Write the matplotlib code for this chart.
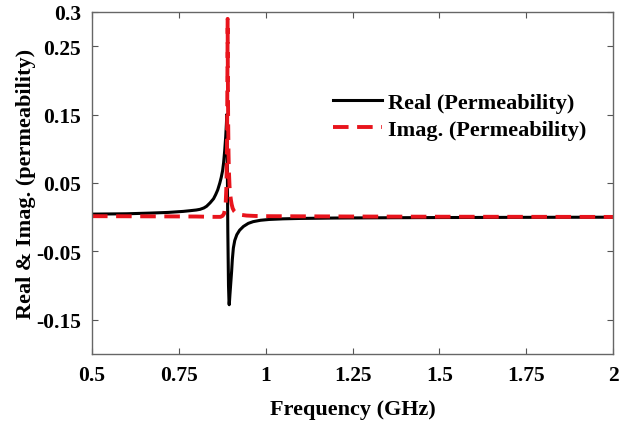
import matplotlib
matplotlib.use("Agg")
import matplotlib.pyplot as plt

# Real part of permeability
freq_real = [0.5, 0.6, 0.667, 0.72, 0.763, 0.782, 0.80, 0.811, 0.822, 0.830, 0.840, 0.850,
             0.856, 0.862, 0.868, 0.872, 0.876, 0.879, 0.882, 0.885, 0.887, 0.888,
             0.8885, 0.8895, 0.891, 0.893, 0.8945, 0.895, 0.896, 0.897, 0.899, 0.902,
             0.904, 0.907, 0.911, 0.917, 0.925, 0.936, 0.95, 0.964, 0.985, 1.01, 1.05,
             1.1, 1.2, 1.35, 1.5, 1.75, 2.0]
real_vals = [0.0045, 0.005, 0.006, 0.007, 0.0085, 0.0095, 0.0105, 0.0115, 0.0135, 0.016,
             0.021, 0.027, 0.033, 0.040, 0.050, 0.058, 0.068, 0.080, 0.097, 0.118, 0.137,
             0.150, 0.140, 0.08, -0.02, -0.10, -0.125, -0.128, -0.122, -0.114, -0.100,
             -0.079, -0.062, -0.045, -0.034, -0.0255, -0.019, -0.0135, -0.009, -0.0065,
             -0.0045, -0.0033, -0.0024, -0.0018, -0.0012, -0.0008, -0.0005, -0.0002, 0.0]

# Imaginary part of permeability
freq_imag = [0.5, 0.7, 0.8, 0.85, 0.87, 0.876, 0.880, 0.883, 0.885, 0.887, 0.888, 0.889,
             0.890, 0.8905, 0.891, 0.892, 0.893, 0.894, 0.896, 0.898, 0.900, 0.902,
             0.905, 0.909, 0.914, 0.920, 0.930, 0.945, 0.97, 1.0, 1.25, 1.5, 2.0]
imag_vals = [0.0015, 0.0012, 0.001, 0.0005, 0.0005, 0.002, 0.005, 0.012, 0.022, 0.045,
             0.075, 0.13, 0.22, 0.29, 0.22, 0.14, 0.095, 0.07, 0.045, 0.033, 0.025, 0.019,
             0.013, 0.009, 0.0065, 0.0048, 0.0034, 0.0024, 0.0018, 0.0015, 0.001, 0.0007,
             0.0004]

xticks = [0.5, 0.75, 1.0, 1.25, 1.5, 1.75, 2.0]
xtick_labels = ["0.5", "0.75", "1", "1.25", "1.5", "1.75", "2"]
yticks = [-0.15, -0.05, 0.05, 0.15, 0.25, 0.3]
ytick_labels = ["-0.15", "-0.05", "0.05", "0.15", "0.25", "0.3"]

plt.rcParams['font.family'] = ['Liberation Serif', 'DejaVu Serif']
plt.rcParams['font.weight'] = 'bold'

fig = plt.figure(figsize=(6.34, 4.27), dpi=100)
ax = fig.add_axes([92/634, 1 - 355/427, (613-92)/634, (355-13)/427])

ax.plot(freq_real, real_vals, color='black', lw=2.2, label='Real (Permeability)')
ax.plot(freq_imag, imag_vals, color='#e8141c', lw=2.8, dashes=(4, 2.2),
        label='Imag. (Permeability)')

ax.set_xlim(0.5, 2.0)
ax.set_ylim(-0.2, 0.3)
ax.set_xticks(xticks)
ax.set_xticklabels(xtick_labels)
ax.set_yticks(yticks)
ax.set_yticklabels(ytick_labels)
ax.tick_params(direction='in', top=True, right=True, length=4, width=0.8,
               color='#555555', labelsize=15.5, pad=8)
for lab in ax.get_xticklabels() + ax.get_yticklabels():
    lab.set_fontweight('bold')
for s in ax.spines.values():
    s.set_color('#666666')
    s.set_linewidth(1.0)

ax.set_xlabel('Frequency (GHz)', fontsize=16, fontweight='bold', labelpad=10)
ax.set_ylabel('Real & Imag. (permeability)', fontsize=16, fontweight='bold', labelpad=0)

leg = ax.legend(loc='upper left', bbox_to_anchor=(0.446, 0.79), frameon=False,
                fontsize=16, handlelength=2.2, handletextpad=0.25, labelspacing=0.28,
                borderaxespad=0)
for t in leg.get_texts():
    t.set_fontweight('bold')

fig.savefig('out.png', dpi=100)
